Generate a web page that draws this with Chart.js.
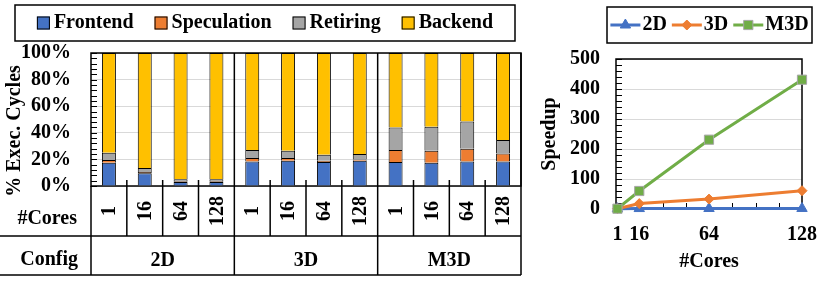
<!DOCTYPE html>
<html>
<head>
<meta charset="utf-8">
<script src="https://cdn.jsdelivr.net/npm/chart.js@4.4.1/dist/chart.umd.min.js"></script>
<style>
  body { margin: 0; background: #fff; }
  #wrap { position: relative; width: 831px; height: 281px; }
  #barBox { position: absolute; left: 0; top: 0; width: 530px; height: 281px; }
  #lineBox { position: absolute; left: 530px; top: 0; width: 301px; height: 281px; }
</style>
</head>
<body>
<div id="wrap">
  <div id="barBox"><canvas id="barChart"></canvas></div>
  <div id="lineBox"><canvas id="lineChart"></canvas></div>
</div>
<script>
// left chart: cycle breakdown per config / core count
const configs = ["2D", "3D", "M3D"];
const coreLabels = ["1", "16", "64", "128", "1", "16", "64", "128", "1", "16", "64", "128"];
const frontend    = [17.5, 9.5, 3, 3, 18.5, 19, 18, 19, 18, 17.5, 18.5, 18.5];
const speculation = [2, 1, 0.5, 0.5, 2.5, 2, 1, 1, 9, 9, 9.5, 6];
const retiring    = [5.5, 3, 1.5, 1.5, 6, 5.5, 4.5, 4, 17, 18, 20.5, 10];
const backend     = [75, 86.5, 95, 95, 73, 73.5, 76.5, 76, 56, 55.5, 51.5, 65.5];

// right chart: speedup vs cores
const coreCounts = [1, 16, 64, 128];
const speedup2D  = [1, 1.5, 1.7, 1.8];
const speedup3D  = [1, 18, 33, 61];
const speedupM3D = [1, 60, 231, 431];

const FONT = '"Liberation Serif", serif';
Chart.defaults.font.family = FONT;
Chart.defaults.font.size = 20;
Chart.defaults.font.weight = 'bold';
Chart.defaults.color = '#000';

// legend drawn inside a framed box
const boxLegend = {
  id: 'boxLegend',
  afterDraw(chart, args, opts) {
    const { ctx } = chart;
    ctx.save();
    ctx.strokeStyle = '#000';
    ctx.lineWidth = 1.5;
    ctx.strokeRect(opts.left, opts.top, opts.right - opts.left, opts.bottom - opts.top);
    ctx.font = 'bold 20px ' + FONT;
    const items = chart.data.datasets.map(ds => ({
      ds, w: opts.keyWidth + opts.keyGap + ctx.measureText(ds.label).width
    }));
    const total = items.reduce((s, it) => s + it.w, 0) + opts.itemGap * (items.length - 1);
    let cx = (opts.left + opts.right - total) / 2;
    const cy = (opts.top + opts.bottom) / 2;
    items.forEach(({ ds, w }) => {
      if (opts.keyStyle === 'box') {
        ctx.fillStyle = ds.backgroundColor;
        ctx.fillRect(cx, cy - opts.keyWidth / 2, opts.keyWidth, opts.keyWidth);
        ctx.lineWidth = 1;
        ctx.strokeStyle = '#000';
        ctx.strokeRect(cx + 0.5, cy - opts.keyWidth / 2 + 0.5, opts.keyWidth - 1, opts.keyWidth - 1);
      } else {
        ctx.strokeStyle = ds.borderColor;
        ctx.lineWidth = ds.borderWidth;
        ctx.beginPath();
        ctx.moveTo(cx, cy);
        ctx.lineTo(cx + opts.keyWidth, cy);
        ctx.stroke();
        ctx.fillStyle = ds.pointBackgroundColor;
        ctx.strokeStyle = ds.pointBorderColor;
        ctx.lineWidth = 1;
        Chart.helpers.drawPoint(ctx, { pointStyle: ds.pointStyle, radius: ds.pointRadius, rotation: 0, borderWidth: 1 },
          cx + opts.keyWidth / 2, cy);
      }
      ctx.fillStyle = '#000';
      ctx.textAlign = 'left';
      ctx.textBaseline = 'middle';
      ctx.fillText(ds.label, cx + opts.keyWidth + opts.keyGap, cy);
      cx += w + opts.itemGap;
    });
    ctx.restore();
  }
};

// plot frame with small inner ticks
const framePlugin = {
  id: 'frame',
  beforeDatasetsDraw(chart, args, opts) {
    const { ctx, chartArea: a, scales } = chart;
    ctx.save();
    ctx.strokeStyle = '#000';
    ctx.lineWidth = 1;
    ctx.beginPath();
    if (opts.yMinor) {
      const y = scales.y;
      for (let v = y.min; v <= y.max; v += opts.yMinor) {
        const py = Math.round(y.getPixelForValue(v)) + 0.5;
        ctx.moveTo(a.left, py);
        ctx.lineTo(a.left + 6, py);
      }
    }
    if (opts.xMinor) {
      const x = scales.x;
      for (let v = x.min; v <= x.max; v += opts.xMinor) {
        const px = Math.round(x.getPixelForValue(v)) + 0.5;
        ctx.moveTo(px, a.bottom);
        ctx.lineTo(px, a.bottom - 6);
      }
    }
    ctx.stroke();
    ctx.lineWidth = 1.5;
    ctx.strokeRect(a.left, a.top, a.width, a.height);
    ctx.restore();
  }
};

// category table under the stacked bars
const tablePlugin = {
  id: 'configTable',
  afterDraw(chart) {
    const { ctx, chartArea: a, scales: { x } } = chart;
    const half = (x.getPixelForValue(1) - x.getPixelForValue(0)) / 2;
    const rowSplit = a.bottom + 50;
    const tableBottom = a.bottom + 89;
    const line = (x1, y1, x2, y2) => { ctx.beginPath(); ctx.moveTo(x1, y1); ctx.lineTo(x2, y2); ctx.stroke(); };
    ctx.save();
    ctx.strokeStyle = '#000';
    ctx.lineWidth = 1.5;
    line(0, rowSplit, a.right, rowSplit);
    line(0, tableBottom, a.right, tableBottom);
    line(a.left, a.bottom, a.left, tableBottom);
    ctx.fillStyle = '#000';
    ctx.font = 'bold 20px ' + FONT;
    ctx.textBaseline = 'middle';
    ctx.textAlign = 'center';
    coreLabels.forEach((lab, i) => {
      const cx = x.getPixelForValue(i);
      const edge = cx + half;
      if ((i + 1) % coreCounts.length === 0) line(edge, a.top, edge, tableBottom);
      else line(edge, a.bottom - 6, edge, rowSplit);
      ctx.save();
      ctx.translate(cx + 1, (a.bottom + rowSplit) / 2);
      ctx.rotate(-Math.PI / 2);
      ctx.fillText(lab, 0, 0);
      ctx.restore();
    });
    configs.forEach((cfg, g) => {
      const n = coreCounts.length;
      const mid = (x.getPixelForValue(g * n) + x.getPixelForValue(g * n + n - 1)) / 2;
      ctx.fillText(cfg, mid, tableBottom - 14);
    });
    ctx.textAlign = 'right';
    ctx.fillText('#Cores', 77, a.bottom + 33);
    ctx.fillText('Config', 78, tableBottom - 15);
    ctx.save();
    ctx.translate(15, 131);
    ctx.rotate(-Math.PI / 2);
    ctx.textAlign = 'center';
    ctx.fillText('% Exec. Cycles', 0, 0);
    ctx.restore();
    ctx.restore();
  }
};

const barSet = (label, data, color) => ({
  label, data, backgroundColor: color, borderColor: '#000', borderWidth: 1,
  barPercentage: 0.39, categoryPercentage: 1
});

new Chart(document.getElementById('barChart'), {
  type: 'bar',
  data: {
    labels: coreLabels,
    datasets: [
      barSet('Frontend', frontend, '#4472C4'),
      barSet('Speculation', speculation, '#ED7D31'),
      barSet('Retiring', retiring, '#A5A5A5'),
      barSet('Backend', backend, '#FFC000')
    ]
  },
  options: {
    responsive: true,
    maintainAspectRatio: false,
    animation: false,
    devicePixelRatio: 1,
    layout: { padding: { top: 53, right: 9, left: 0, bottom: 0 } },
    plugins: {
      legend: { display: false },
      tooltip: { enabled: false },
      boxLegend: { left: 15, top: 5, right: 515, bottom: 41, keyStyle: 'box', keyWidth: 13, keyGap: 4, itemGap: 21 },
      frame: { yMinor: 4 }
    },
    scales: {
      x: {
        stacked: true,
        offset: true,
        grid: { display: false, drawTicks: false },
        border: { display: false },
        ticks: { display: false },
        afterFit: s => { s.height = 95; }
      },
      y: {
        stacked: true,
        min: 0,
        max: 100,
        ticks: { stepSize: 20, padding: 20, autoSkip: false, callback: v => v + '%' },
        grid: { color: '#d9d9d9', drawTicks: false },
        border: { display: false },
        afterFit: s => { s.width = 91; }
      }
    }
  },
  plugins: [boxLegend, framePlugin, tablePlugin]
});

const lineSet = (label, data, color, style, radius, order, edge) => ({
  label,
  data: coreCounts.map((c, i) => ({ x: c, y: data[i] })),
  borderColor: color,
  borderWidth: 3,
  pointStyle: style,
  pointRadius: radius,
  pointBackgroundColor: color,
  pointBorderColor: edge || color,
  pointBorderWidth: 1,
  order,
  clip: false
});

new Chart(document.getElementById('lineChart'), {
  type: 'line',
  data: {
    datasets: [
      lineSet('2D', speedup2D, '#4472C4', 'triangle', 6, 2),
      lineSet('3D', speedup3D, '#ED7D31', 'rectRot', 5, 1),
      lineSet('M3D', speedupM3D, '#70AD47', 'rect', 6.5, 0, '#a6a6a6')
    ]
  },
  options: {
    responsive: true,
    maintainAspectRatio: false,
    animation: false,
    devicePixelRatio: 1,
    layout: { padding: { top: 59, right: 22, left: 0, bottom: 0 } },
    plugins: {
      legend: { display: false },
      tooltip: { enabled: false },
      boxLegend: { left: 77, top: 7, right: 282, bottom: 43, keyStyle: 'line', keyWidth: 30, keyGap: 2, itemGap: 5 },
      frame: { yMinor: 20, xMinor: 16 }
    },
    scales: {
      x: {
        type: 'linear',
        min: 0,
        max: 128,
        afterBuildTicks: s => { s.ticks = coreCounts.map(v => ({ value: v })); },
        ticks: { padding: 14, autoSkip: false, maxRotation: 0 },
        grid: { display: false, drawTicks: false },
        border: { display: false },
        title: { display: true, text: '#Cores', font: { lineHeight: 1 }, padding: { top: 0, bottom: 9 } },
        afterFit: s => { s.height = 72; }
      },
      y: {
        min: 0,
        max: 500,
        ticks: { stepSize: 100, padding: 16, autoSkip: false },
        grid: { color: '#d9d9d9', drawTicks: false },
        border: { display: false },
        title: { display: true, text: 'Speedup', font: { lineHeight: 1 }, padding: { top: 10, bottom: 0 } },
        afterFit: s => { s.width = 86; }
      }
    }
  },
  plugins: [boxLegend, framePlugin]
});
</script>
</body>
</html>
